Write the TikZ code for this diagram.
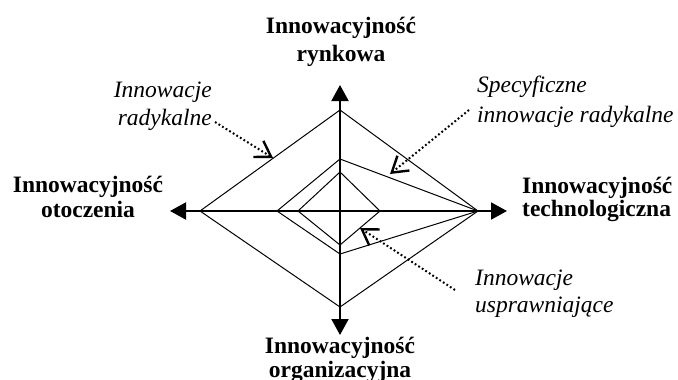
\documentclass[tikz,border=0pt]{standalone}
\usepackage{fontspec}
\setmainfont{Liberation Serif}
\usetikzlibrary{arrows.meta,calc}
\begin{document}
\begin{tikzpicture}[x=1pt,y=-1pt,
  axisline/.style={line width=2pt,-{Triangle[length=16pt,width=17pt]}},
  diamondline/.style={line width=1pt,line join=miter},
  pointer/.style={line width=2pt,dash pattern=on 1.8pt off 2.4pt,
    -{Straight Barb[length=15pt,width=19pt,line width=2.4pt]}},
  axislabel/.style={font=\fontsize{23.5}{28}\selectfont\bfseries,inner sep=0pt,anchor=base},
  typelabel/.style={font=\fontsize{23.5}{28}\selectfont\itshape,inner sep=0pt}]
\useasboundingbox (0,0) rectangle (678,380);
% centre and axes
\coordinate (c) at (340,211);
\coordinate (axL) at (170,211);
\coordinate (axR) at (507,211);
\coordinate (axT) at (340,85);
\coordinate (axB) at (340,335);
\draw[axisline] (c) -- (axL);
\draw[axisline] (c) -- (axR);
\draw[axisline] (c) -- (axT);
\draw[axisline] (c) -- (axB);
% outer diamond (radykalne)
\coordinate (oT) at (340,110);
\coordinate (oR) at (478,211);
\coordinate (oB) at (340,307);
\coordinate (oL) at (200,211);
\draw[diamondline] (oT) -- (oR) -- (oB) -- (oL) -- cycle;
% middle (specyficzne)
\coordinate (mT) at (340,159);
\coordinate (mB) at (340,254);
\coordinate (mL) at (277,211);
\draw[diamondline] (mT) -- (oR) -- (mB) -- (mL) -- cycle;
% inner (usprawniajace)
\coordinate (iT) at (340,172);
\coordinate (iR) at (380,211);
\coordinate (iB) at (340,245);
\coordinate (iL) at (298,211);
\draw[diamondline] (iT) -- (iR) -- (iB) -- (iL) -- cycle;
% axis labels
\node[axislabel] (top1) at (341,33) {Innowacyjność};
\node[axislabel] (top2) at (341,61) {rynkowa};
\node[axislabel] (lft1) at (88,192) {Innowacyjność};
\node[axislabel] (lft2) at (88,217) {otoczenia};
\node[axislabel,anchor=base west] (rgt1) at (522,193) {Innowacyjność};
\node[axislabel,anchor=base west] (rgt2) at (522,216) {technologiczna};
\node[axislabel] (bot1) at (340,353) {Innowacyjność};
\node[axislabel] (bot2) at (340,377) {organizacyjna};
% type labels
\node[typelabel,anchor=base east] (rad1) at (212,97) {Innowacje};
\node[typelabel,anchor=base east] (rad2) at (212,125) {radykalne};
\node[typelabel,anchor=base west] (spe1) at (477,92) {Specyficzne};
\node[typelabel,anchor=base west] (spe2) at (477,122) {innowacje radykalne};
\node[typelabel,anchor=base west] (usp1) at (475,285) {Innowacje};
\node[typelabel,anchor=base west] (usp2) at (475,312) {usprawniające};
% pointers
\coordinate (radS) at (215,122);
\coordinate (radE) at (273,158);
\coordinate (speS) at (469,110);
\coordinate (speE) at (390,174);
\coordinate (uspS) at (455,290);
\coordinate (uspE) at (360,228);
\draw[pointer] (radS) -- (radE);
\draw[pointer] (speS) -- (speE);
\draw[pointer] (uspS) -- (uspE);
\end{tikzpicture}
\end{document}
